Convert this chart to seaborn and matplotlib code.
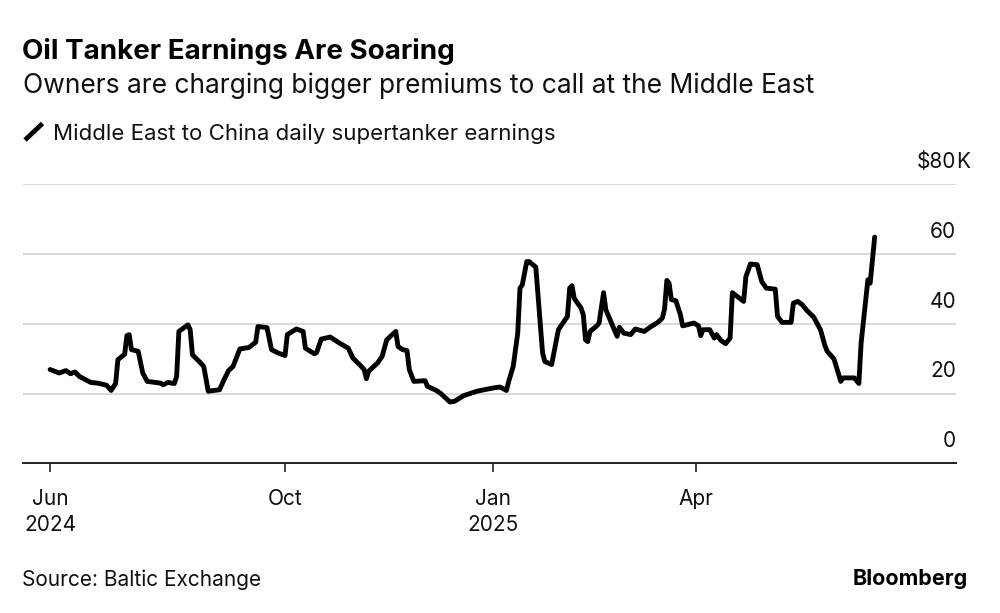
import matplotlib
matplotlib.use("Agg")
import matplotlib.pyplot as plt
from matplotlib.lines import Line2D
import pandas as pd
import seaborn as sns

# Middle East to China daily supertanker earnings, $K per day
dates = [
    "2024-06-19", "2024-06-23", "2024-06-26", "2024-06-28", "2024-06-30", "2024-07-02",
    "2024-07-07", "2024-07-10", "2024-07-14", "2024-07-16", "2024-07-18", "2024-07-19",
    "2024-07-22", "2024-07-23", "2024-07-24", "2024-07-25", "2024-07-28", "2024-07-30",
    "2024-08-01", "2024-08-07", "2024-08-08", "2024-08-10", "2024-08-13", "2024-08-14",
    "2024-08-15", "2024-08-19", "2024-08-20", "2024-08-21", "2024-08-24", "2024-08-26",
    "2024-08-28", "2024-09-02", "2024-09-04", "2024-09-06", "2024-09-08", "2024-09-11",
    "2024-09-15", "2024-09-18", "2024-09-19", "2024-09-23", "2024-09-25", "2024-09-28",
    "2024-10-01", "2024-10-02", "2024-10-06", "2024-10-09", "2024-10-10", "2024-10-14",
    "2024-10-15", "2024-10-17", "2024-10-21", "2024-10-25", "2024-10-29", "2024-10-31",
    "2024-11-03", "2024-11-05", "2024-11-06", "2024-11-07", "2024-11-11", "2024-11-13",
    "2024-11-15", "2024-11-19", "2024-11-20", "2024-11-22", "2024-11-24", "2024-11-25",
    "2024-11-27", "2024-12-02", "2024-12-03", "2024-12-07", "2024-12-09", "2024-12-13",
    "2024-12-15", "2024-12-19", "2024-12-25", "2025-01-01", "2025-01-04", "2025-01-05",
    "2025-01-07", "2025-01-08", "2025-01-10", "2025-01-12", "2025-01-13", "2025-01-14",
    "2025-01-16", "2025-01-17", "2025-01-20", "2025-01-23", "2025-01-24", "2025-01-27",
    "2025-01-28", "2025-01-30", "2025-02-01", "2025-02-03", "2025-02-04", "2025-02-05",
    "2025-02-06", "2025-02-09", "2025-02-10", "2025-02-11", "2025-02-12", "2025-02-13",
    "2025-02-16", "2025-02-17", "2025-02-19", "2025-02-20", "2025-02-23", "2025-02-25",
    "2025-02-26", "2025-02-28", "2025-03-03", "2025-03-05", "2025-03-09", "2025-03-12",
    "2025-03-15", "2025-03-17", "2025-03-18", "2025-03-19", "2025-03-20", "2025-03-21",
    "2025-03-23", "2025-03-25", "2025-03-26", "2025-03-31", "2025-04-02", "2025-04-03",
    "2025-04-04", "2025-04-07", "2025-04-09", "2025-04-10", "2025-04-12", "2025-04-14",
    "2025-04-16", "2025-04-17", "2025-04-22", "2025-04-23", "2025-04-25", "2025-04-28",
    "2025-04-30", "2025-05-02", "2025-05-06", "2025-05-07", "2025-05-09", "2025-05-13",
    "2025-05-14", "2025-05-16", "2025-05-18", "2025-05-20", "2025-05-23", "2025-05-26",
    "2025-05-28", "2025-05-29", "2025-06-01", "2025-06-04", "2025-06-05", "2025-06-10",
    "2025-06-12", "2025-06-13", "2025-06-16", "2025-06-17", "2025-06-19",
]
earnings = [
    26.9, 25.9, 26.6, 25.7, 26.2, 24.9,
    23.2, 23.0, 22.4, 20.9, 22.9, 29.7,
    31.3, 36.6, 36.9, 32.6, 32.1, 25.9,
    23.5, 23.0, 22.5, 23.2, 22.9, 24.9,
    37.8, 39.7, 38.3, 31.1, 29.2, 27.8,
    20.7, 21.1, 24.0, 26.6, 27.8, 32.8,
    33.2, 34.7, 39.2, 38.9, 32.6, 31.6,
    30.9, 36.9, 38.5, 37.8, 33.0, 31.4,
    31.8, 35.6, 36.2, 34.5, 33.0, 30.2,
    28.3, 26.9, 24.3, 26.4, 28.8, 30.7,
    35.4, 37.8, 33.5, 32.6, 32.3, 26.9,
    23.5, 23.7, 22.1, 20.9, 20.0, 17.6,
    17.8, 19.4, 20.7, 21.6, 21.9, 21.6,
    20.9, 23.5, 27.8, 37.3, 50.2, 51.1,
    57.8, 57.8, 56.2, 31.6, 29.2, 28.3,
    31.6, 38.3, 40.2, 42.1, 50.2, 50.9,
    47.3, 44.5, 42.6, 35.4, 34.9, 37.8,
    39.4, 40.2, 48.9, 44.0, 39.4, 36.4,
    39.0, 37.3, 36.9, 38.5, 37.8, 39.2,
    40.4, 41.6, 44.2, 52.4, 51.6, 46.9,
    46.6, 42.6, 39.4, 40.2, 39.4, 36.6,
    38.3, 38.3, 35.9, 36.9, 35.2, 34.3,
    35.9, 48.9, 46.4, 53.5, 57.1, 56.9,
    52.1, 50.2, 49.9, 42.1, 40.4, 40.4,
    45.9, 46.4, 45.4, 43.8, 41.9, 38.3,
    33.7, 32.1, 29.9, 23.5, 24.5, 24.5,
    22.9, 34.5, 52.6, 51.6, 64.8,
]

tick_dates = ["2024-06-19", "2024-10-01", "2025-01-01", "2025-04-01"]
tick_labels = ["Jun\n2024", "Oct", "Jan\n2025", "Apr"]
y_ticks = [0, 20, 40, 60, 80]
y_labels = ["0", "20", "40", "60", "$80"]

df = pd.DataFrame({"date": pd.to_datetime(dates), "earnings": earnings})

sns.set_theme(style="white")
plt.rcParams["font.family"] = ["Inter", "DejaVu Sans"]

fig = plt.figure(figsize=(10, 6.13), dpi=100)
ax = fig.add_axes([0.023, 0.2439, 0.933, 0.4559])

sns.lineplot(data=df, x="date", y="earnings", ax=ax, color="black",
             linewidth=3.5, solid_joinstyle="round", solid_capstyle="round")

ax.set_xlim(pd.Timestamp("2024-06-07"), pd.Timestamp("2025-07-25"))
ax.set_ylim(0, 80)
ax.set_xlabel("")
ax.set_ylabel("")

for side in ["top", "right", "left"]:
    ax.spines[side].set_visible(False)
ax.spines["bottom"].set_color("#222222")
ax.spines["bottom"].set_linewidth(1.4)

for v in y_ticks[1:]:
    ax.axhline(v, color="#d9d9d9", linewidth=1.4, zorder=0)

ax.set_xticks(pd.to_datetime(tick_dates))
ax.set_xticklabels(tick_labels, fontsize=15, linespacing=1.35, color="#111111")
ax.tick_params(axis="x", direction="out", length=6.5, width=1.2, color="#222222", pad=12, bottom=True)
ax.set_yticks([])

for v, lab in zip(y_ticks, y_labels):
    ax.annotate(lab, xy=(1.0, v), xycoords=("axes fraction", "data"),
                xytext=(0, 16), textcoords="offset points",
                ha="right", va="center", fontsize=15, color="#111111")
ax.annotate("K", xy=(1.0, 80), xycoords=("axes fraction", "data"),
            xytext=(0, 16), textcoords="offset points",
            ha="left", va="center", fontsize=15, color="#111111")

fig.text(0.022, 0.9033, "Oil Tanker Earnings Are Soaring", fontsize=20,
         fontweight="bold", va="baseline", ha="left", color="black")
fig.text(0.023, 0.8478, "Owners are charging bigger premiums to call at the Middle East",
         fontsize=19, va="baseline", ha="left", color="#111111")

fig.add_artist(Line2D([0.025, 0.0425], [1 - 140 / 613, 1 - 123.5 / 613],
                      transform=fig.transFigure, color="black", linewidth=3.4,
                      solid_capstyle="butt"))
fig.text(0.053, 0.7716, "Middle East to China daily supertanker earnings",
         fontsize=16, va="baseline", ha="left", color="#111111")

fig.text(0.022, 0.044, "Source: Baltic Exchange", fontsize=15,
         va="baseline", ha="left", color="#111111")
fig.text(0.968, 0.046, "Bloomberg", fontsize=15.5, fontweight="bold",
         va="baseline", ha="right", color="black")

fig.savefig("out.png", dpi=100, facecolor="white")
